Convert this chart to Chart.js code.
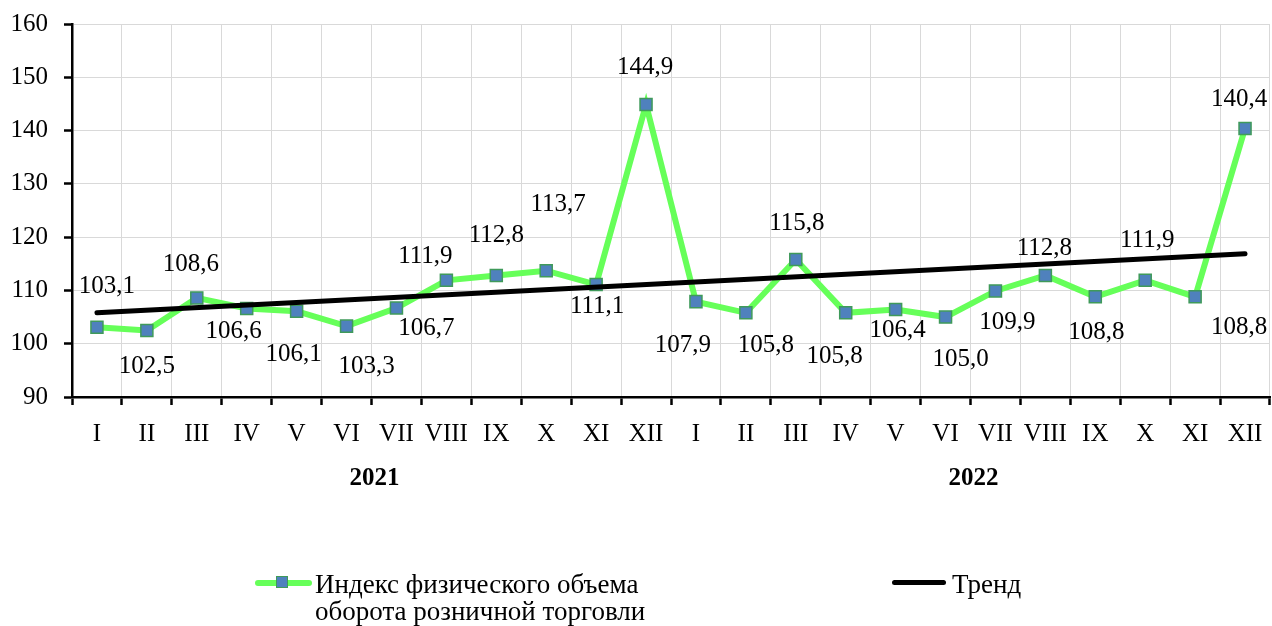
<!DOCTYPE html>
<html>
<head>
<meta charset="utf-8">
<script src="https://cdn.jsdelivr.net/npm/chart.js@4/dist/chart.umd.min.js"></script>
<style>
  body { margin: 0; background: #fff; }
  #wrap { position: relative; width: 1272px; height: 626px; }
  canvas { position: absolute; left: 0; top: 0; }
  .leg { position: absolute; font-family: "Liberation Serif", "Times New Roman", serif; font-size: 27px; line-height: 27px; color: #000; white-space: nowrap; }
  .ln { position: absolute; height: 6px; }
  .mk { position: absolute; width: 10px; height: 10px; background: #4f81bd; border: 1.5px solid #3f9a5a; }
</style>
</head>
<body>
<div id="wrap">
  <canvas id="lineChart" width="1272" height="626"></canvas>
  <div class="ln" style="left:255px; top:580px; width:57px; background:#66ff59; border-radius:3px;"></div>
  <div class="mk" style="left:276px; top:576px;"></div>
  <div class="leg" style="left:315px; top:571px;">Индекс физического объема<br>оборота розничной торговли</div>
  <div class="ln" style="left:892px; top:580px; width:54px; height:5px; background:#000; border-radius:3px;"></div>
  <div class="leg" style="left:952px; top:571px;">Тренд</div>
</div>
<script>
// months, two years
const months = ['I', 'II', 'III', 'IV', 'V', 'VI', 'VII', 'VIII', 'IX', 'X', 'XI', 'XII',
  'I', 'II', 'III', 'IV', 'V', 'VI', 'VII', 'VIII', 'IX', 'X', 'XI', 'XII'];
const years = ['2021', '2022'];

// Индекс физического объема оборота розничной торговли
const retailIndex = [103.1, 102.5, 108.6, 106.6, 106.1, 103.3, 106.7, 111.9, 112.8, 113.7, 111.1, 144.9,
  107.9, 105.8, 115.8, 105.8, 106.4, 105.0, 109.9, 112.8, 108.8, 111.9, 108.8, 140.4];

// trend line, read at its two ends
const trendStart = 105.8;
const trendEnd = 116.9;

const yTicks = [90, 100, 110, 120, 130, 140, 150, 160];

// where each value label sits relative to its point (px)
const labelDx = [10, 0, -6, -13, -3, 20, 30, -21, 0, 12, 1, -1, -13, 20, 1, -11, 2, 15, 12, -1, 1, 2, 44, -6];
const labelDy = [-41, 36, -33, 23, 43, 40, 20, -24, -40, -66, 22, -37, 44, 33, -36, 44, 21, 42, 31, -27, 36, -40, 31, -29];

const FONT = '"Liberation Serif", "Times New Roman", serif';

const trendData = months.map((m, i) => i === 0 ? trendStart : (i === months.length - 1 ? trendEnd : null));

const labelsPlugin = {
  id: 'valueLabels',
  afterDatasetsDraw(chart) {
    const ctx = chart.ctx;
    const meta = chart.getDatasetMeta(0);
    ctx.save();
    ctx.font = '25px ' + FONT;
    ctx.fillStyle = '#000';
    ctx.textAlign = 'center';
    ctx.textBaseline = 'middle';
    meta.data.forEach((pt, i) => {
      const txt = retailIndex[i].toFixed(1).replace('.', ',');
      ctx.fillText(txt, pt.x + labelDx[i], pt.y + labelDy[i]);
    });
    // year captions under the months
    const x = chart.scales.x;
    ctx.font = 'bold 25px ' + FONT;
    years.forEach((y, k) => {
      const a = x.getPixelForValue(k * 12 + 5);
      const b = x.getPixelForValue(k * 12 + 6);
      ctx.fillText(y, (a + b) / 2 + 3, 479);
    });
    ctx.restore();
  }
};

const ctx = document.getElementById('lineChart').getContext('2d');
new Chart(ctx, {
  type: 'line',
  data: {
    labels: months,
    datasets: [
      {
        label: 'Индекс физического объема оборота розничной торговли',
        data: retailIndex,
        borderColor: '#66ff59',
        borderWidth: 6,
        pointStyle: 'rect',
        pointRadius: 8.5,
        pointBackgroundColor: '#4f81bd',
        pointBorderColor: '#3f9a5a',
        pointBorderWidth: 1.5,
        tension: 0,
        order: 1,
      },
      {
        label: 'Тренд',
        data: trendData,
        borderColor: '#000',
        borderWidth: 5,
        borderCapStyle: 'round',
        pointRadius: 0,
        spanGaps: true,
        order: 0,
      },
    ],
  },
  options: {
    responsive: false,
    devicePixelRatio: 1,
    animation: false,
    layout: { autoPadding: false, padding: { top: 24, right: 2, left: 0, bottom: 0 } },
    scales: {
      x: {
        offset: true,
        grid: { offset: true, color: '#d9d9d9', lineWidth: 1, tickLength: 8, tickColor: '#000', tickWidth: 2.5 },
        border: { color: '#000', width: 2.5 },
        ticks: { color: '#000', font: { family: FONT, size: 25 }, padding: 14, maxRotation: 0, autoSkip: false },
        afterFit(scale) { scale.height = 229; scale.paddingRight = 0; scale.paddingLeft = 0; },
      },
      y: {
        min: 90,
        max: 160,
        afterBuildTicks(scale) { scale.ticks = yTicks.map(v => ({ value: v })); },
        grid: { color: '#d9d9d9', lineWidth: 1, tickLength: 8, tickColor: '#000', tickWidth: 2.5 },
        border: { color: '#000', width: 2.5 },
        ticks: { color: '#000', font: { family: FONT, size: 25 }, padding: 16 },
        afterFit(scale) { scale.width = 72; scale.paddingTop = 0; scale.paddingBottom = 0; },
      },
    },
    plugins: {
      legend: { display: false },
      tooltip: { enabled: false },
    },
  },
  plugins: [labelsPlugin],
});
</script>
</body>
</html>
